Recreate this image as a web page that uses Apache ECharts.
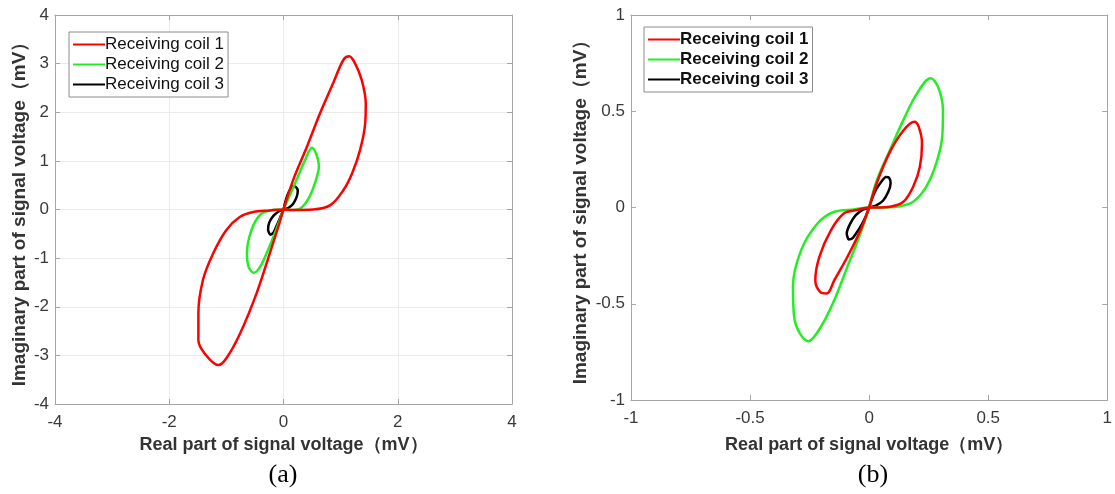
<!DOCTYPE html>
<html>
<head>
<meta charset="utf-8">
<script src="https://cdn.jsdelivr.net/npm/echarts@6/dist/echarts.min.js"></script>
<style>
  html, body { margin: 0; padding: 0; background: #fff; }
  #chart { width: 1115px; height: 494px; }
</style>
</head>
<body>
<div id="chart"></div>
<script>
// names
var coilNames = ['Receiving coil 1', 'Receiving coil 2', 'Receiving coil 3']
var coilColors = ['#ff0000', '#22ee22', '#000000']

// (a) loops, [real, imaginary] in mV
var coil1A = [[0, 0], [0.17, 0.61], [0.41, 1.29], [0.64, 1.98], [0.87, 2.6], [1.05, 3.08], [1.15, 3.15], [1.25, 3.01],
  [1.37, 2.66], [1.44, 2.18], [1.43, 1.77], [1.34, 1.22], [1.2, 0.74], [1.05, 0.4], [0.82, 0.09], [0.52, 0.0],
  [0.17, -0.01], [0, 0], [-0.24, -0.02], [-0.53, -0.05], [-0.76, -0.15], [-1.0, -0.42], [-1.23, -0.9],
  [-1.41, -1.45], [-1.49, -2.14], [-1.49, -2.69], [-1.38, -2.96], [-1.14, -3.2], [-1.0, -3.06], [-0.76, -2.55],
  [-0.47, -1.72], [-0.24, -0.9], [-0.09, -0.35], [0, 0]]
var coil2A = [[0, 0], [0.23, 0.61], [0.38, 1.02], [0.5, 1.27], [0.58, 1.12], [0.62, 0.9], [0.55, 0.54], [0.44, 0.23],
  [0.29, 0.02], [0.12, -0.01], [0, 0], [-0.24, -0.02], [-0.41, -0.11], [-0.56, -0.42], [-0.64, -0.9],
  [-0.61, -1.18], [-0.52, -1.3], [-0.41, -1.18], [-0.27, -0.83], [-0.12, -0.39], [0, 0]]
var coil3A = [[0, 0], [0.03, 0.15], [0.07, 0.3], [0.12, 0.42], [0.17, 0.48], [0.22, 0.46], [0.25, 0.38], [0.23, 0.26],
  [0.17, 0.12], [0.08, 0.03], [0, 0], [-0.07, -0.03], [-0.17, -0.12], [-0.25, -0.27], [-0.27, -0.42],
  [-0.23, -0.52], [-0.18, -0.48], [-0.13, -0.36], [-0.07, -0.2], [-0.03, -0.08], [0, 0]]

// (b) loops
var coil1B = [[0, 0], [0.033, 0.13], [0.088, 0.29], [0.144, 0.4], [0.19, 0.445], [0.208, 0.42], [0.222, 0.333],
  [0.213, 0.212], [0.185, 0.108], [0.144, 0.03], [0.088, 0.004], [0.033, 0], [0, 0], [-0.05, -0.013],
  [-0.105, -0.03], [-0.16, -0.117], [-0.209, -0.256], [-0.226, -0.377], [-0.205, -0.44], [-0.178, -0.447],
  [-0.146, -0.377], [-0.091, -0.256], [-0.036, -0.117], [0, 0]]
var coil2B = [[0, 0], [0.033, 0.143], [0.088, 0.3], [0.144, 0.455], [0.2, 0.59], [0.258, 0.671], [0.289, 0.628],
  [0.31, 0.506], [0.307, 0.368], [0.282, 0.23], [0.24, 0.108], [0.185, 0.03], [0.116, 0.004], [0.05, 0], [0, 0],
  [-0.064, -0.01], [-0.146, -0.022], [-0.216, -0.082], [-0.285, -0.22], [-0.32, -0.41], [-0.313, -0.584],
  [-0.255, -0.695], [-0.202, -0.619], [-0.146, -0.48], [-0.091, -0.307], [-0.036, -0.134], [0, 0]]
var coil3B = [[0, 0], [0.012, 0.045], [0.03, 0.095], [0.052, 0.135], [0.07, 0.158], [0.084, 0.155], [0.09, 0.125],
  [0.08, 0.08], [0.058, 0.035], [0.028, 0.01], [0, 0], [-0.028, -0.012], [-0.056, -0.04], [-0.08, -0.085],
  [-0.094, -0.135], [-0.086, -0.166], [-0.07, -0.16], [-0.052, -0.13], [-0.032, -0.09], [-0.012, -0.04], [0, 0]]

// axis ranges: min, max, interval
var rangeA = [-4, 4, 2, 1]
var rangeB = [-1, 1, 0.5, 0.5]

var xTitle = 'Real part of signal voltage（mV）'
var yTitle = 'Imaginary part of signal voltage（mV）'

var chart = echarts.init(document.getElementById('chart'))

var font = 'Liberation Sans, Arial, sans-serif'
var serif = 'Liberation Serif, Times New Roman, serif'

function axis(grid, r, interval, isY, title, gap, splitShow, mirror) {
  return {
    type: 'value',
    gridIndex: grid,
    position: mirror ? (isY ? 'right' : 'top') : undefined,
    min: r[0],
    max: r[1],
    interval: interval,
    name: mirror ? '' : title,
    nameLocation: 'middle',
    nameGap: gap,
    nameTextStyle: {
      color: '#333',
      fontFamily: font,
      fontWeight: 'bold',
      fontSize: isY ? 19 : 18
    },
    axisLine: { show: true, onZero: false, lineStyle: { color: '#a6a6a6', width: 1 } },
    axisTick: { show: true, inside: true, length: 5, lineStyle: { color: '#a6a6a6' } },
    axisLabel: {
      show: !mirror,
      color: '#3a3a3a',
      fontFamily: font,
      fontSize: 17,
      margin: isY ? 6 : 10
    },
    splitLine: { show: splitShow && !mirror, lineStyle: { color: '#ebebeb', width: 1 } }
  }
}

function legend(left, top, bold) {
  return {
    orient: 'vertical',
    left: left,
    top: top,
    data: coilNames,
    icon: 'rect',
    itemWidth: 32,
    itemHeight: 2,
    itemGap: 3,
    padding: [4, 4, 4, 4],
    backgroundColor: '#fff',
    borderColor: '#8c8c8c',
    borderWidth: 1,
    borderRadius: 0,
    selectedMode: false,
    textStyle: {
      color: '#111',
      fontFamily: font,
      fontSize: 17,
      fontWeight: bold ? 'bold' : 'normal',
      padding: [0, 0, 0, -5]
    }
  }
}

function loops(list, xi) {
  return list.map(function(d, i) {
    return {
      name: coilNames[i],
      type: 'line',
      xAxisIndex: xi,
      yAxisIndex: xi,
      data: d,
      smooth: i === 2 ? 0.2 : 0.35,
      showSymbol: false,
      symbol: 'none',
      lineStyle: { color: coilColors[i], width: 2.5 },
      itemStyle: { color: coilColors[i] },
      z: 3 - i
    }
  })
}

chart.setOption({
  animation: false,
  backgroundColor: '#fff',
  title: [
    { text: '(a)', left: 283, textAlign: 'center', top: 462, padding: 0, textStyle: { fontFamily: serif, fontWeight: 'normal', fontSize: 26, color: '#000' } },
    { text: '(b)', left: 873, textAlign: 'center', top: 462, padding: 0, textStyle: { fontFamily: serif, fontWeight: 'normal', fontSize: 26, color: '#000' } }
  ],
  legend: [
    legend(69, 32, false),
    legend(644, 27, true)
  ],
  grid: [
    { left: 55, right: 1115 - 512, top: 15, bottom: 494 - 404, show: false },
    { left: 631, right: 2, top: 15, bottom: 494 - 400, show: false }
  ],
  xAxis: [
    axis(0, rangeA, rangeA[2], false, xTitle, 32, true, false),
    axis(1, rangeB, rangeB[2], false, xTitle, 36, false, false),
    axis(0, rangeA, rangeA[2], false, '', 0, false, true),
    axis(1, rangeB, rangeB[2], false, '', 0, false, true)
  ],
  yAxis: [
    axis(0, rangeA, rangeA[3], true, yTitle, 26, true, false),
    axis(1, rangeB, rangeB[3], true, yTitle, 41, false, false),
    axis(0, rangeA, rangeA[3], true, '', 0, false, true),
    axis(1, rangeB, rangeB[3], true, '', 0, false, true)
  ],
  series: loops([coil1A, coil2A, coil3A], 0).concat(loops([coil1B, coil2B, coil3B], 1))
})
</script>
</body>
</html>
